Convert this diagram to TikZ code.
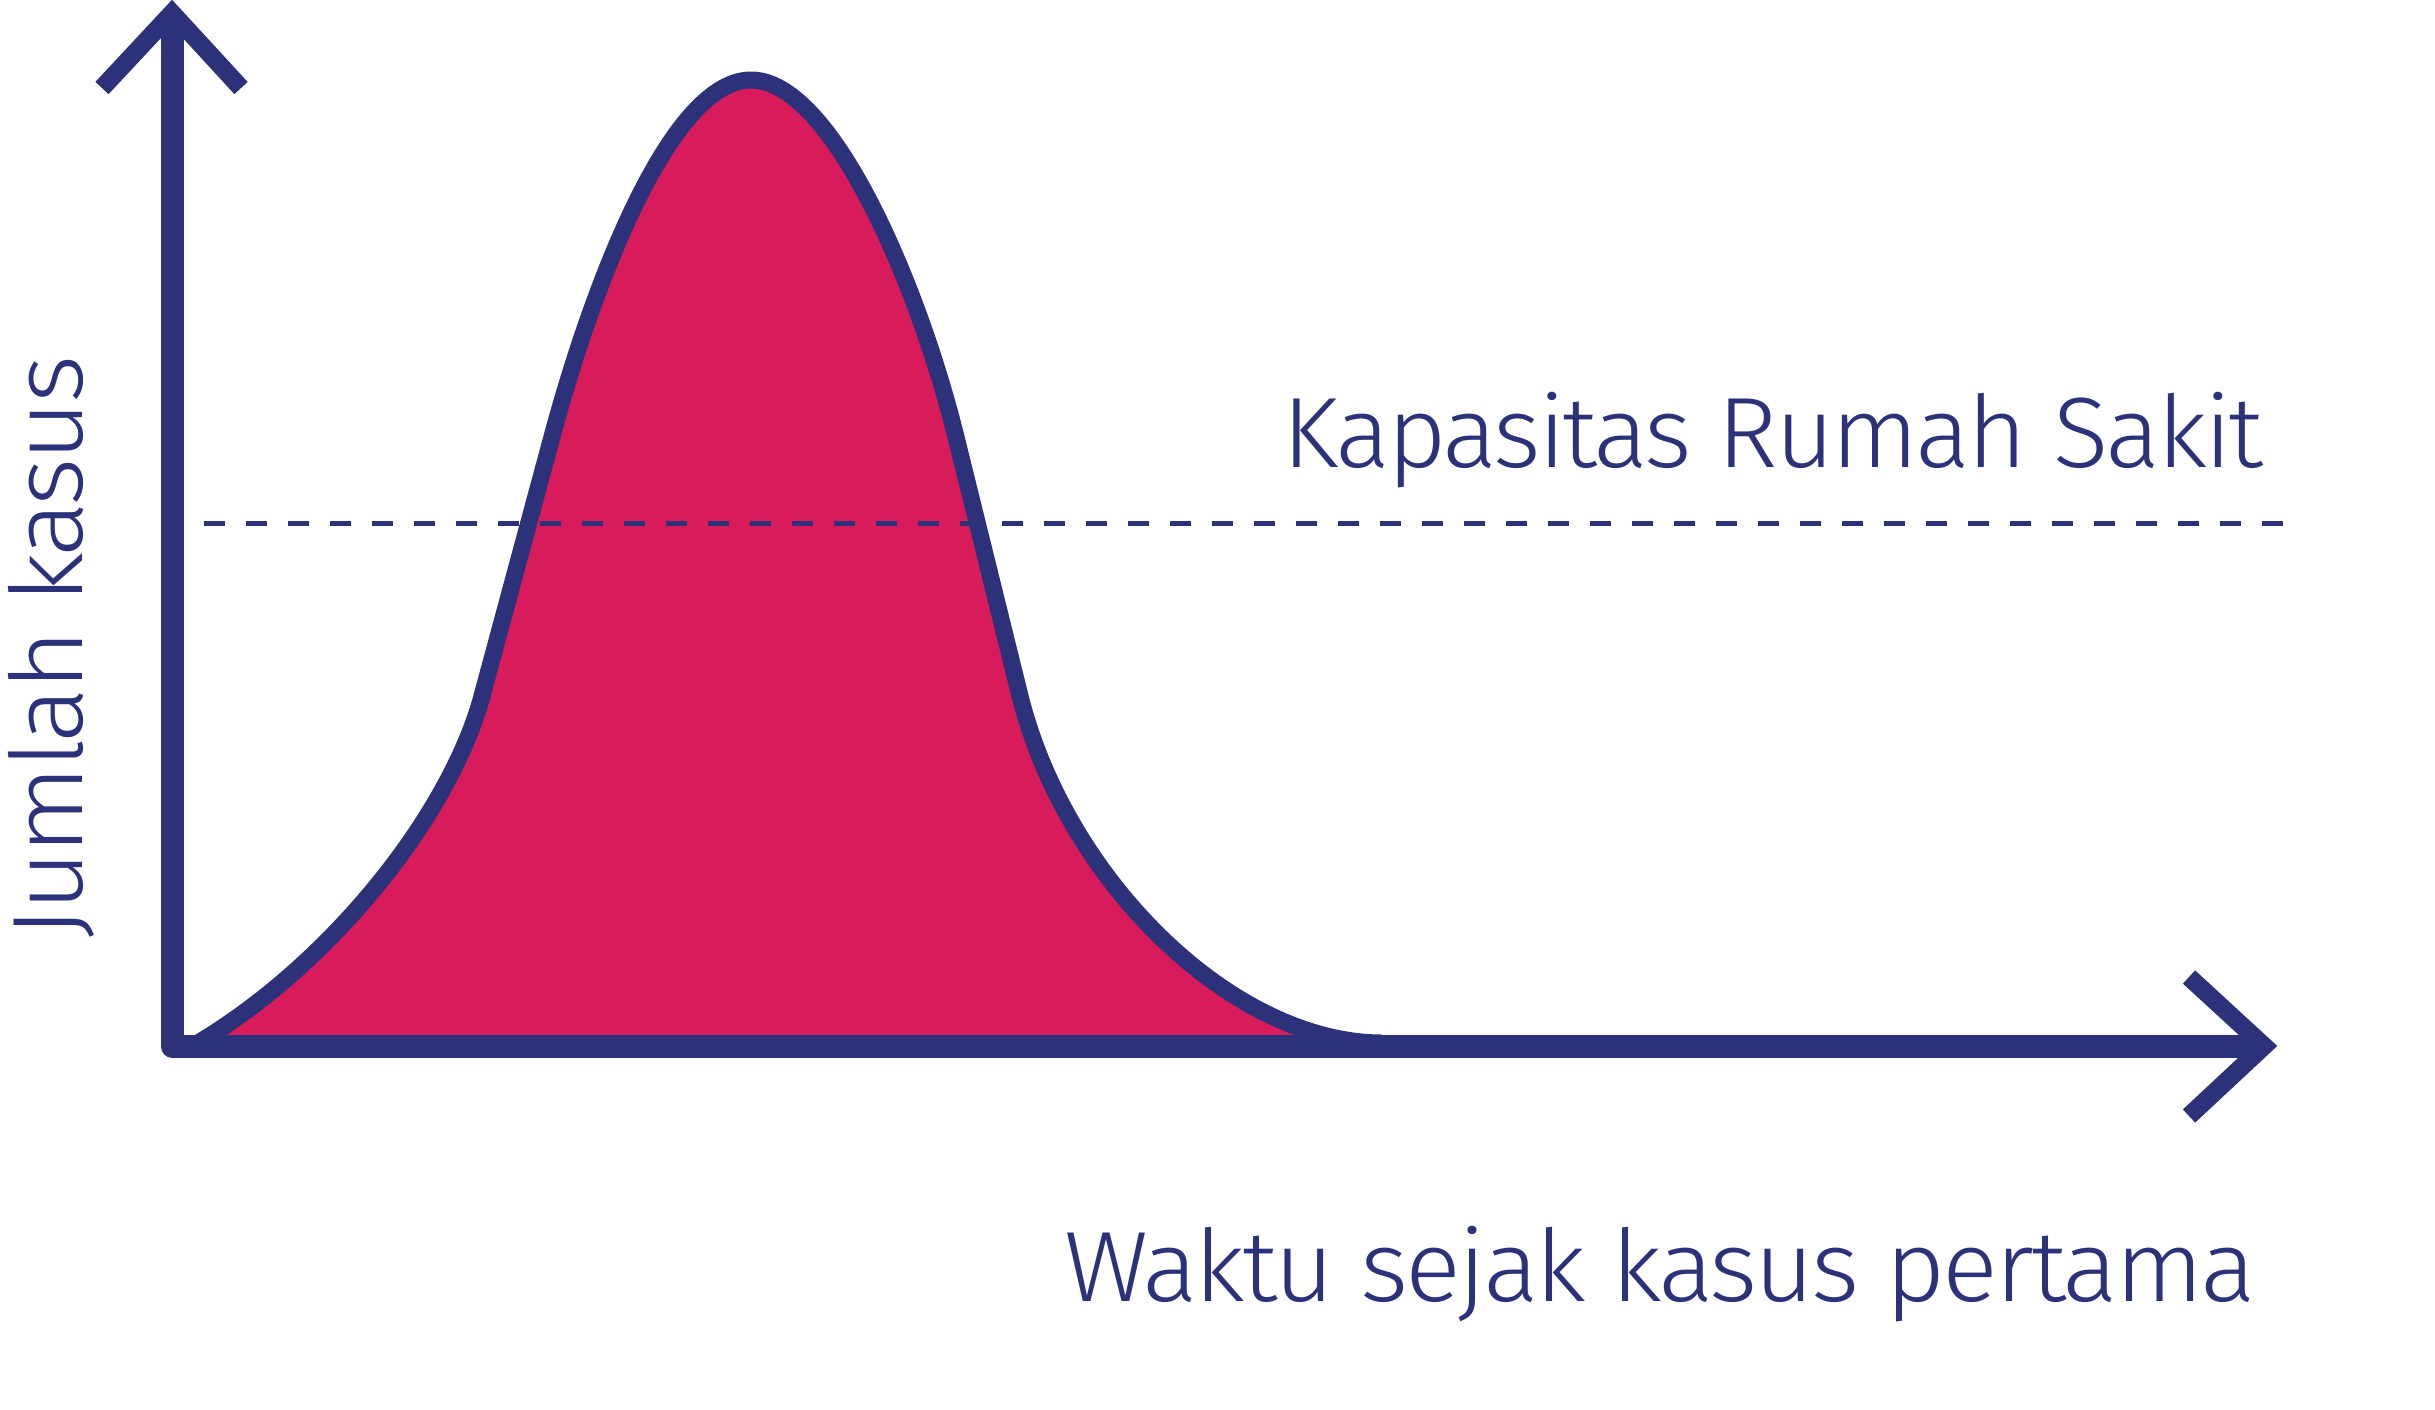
\documentclass[tikz,border=0pt]{standalone}
\usepackage{fontspec}
\IfFontExistsTF{Fira Sans Light}{\setmainfont{Fira Sans Light}[LetterSpace=-3]}{\setmainfont{Fira Sans}}
\definecolor{navy}{RGB}{43,50,122}
\definecolor{crimson}{RGB}{216,28,91}
\newsavebox\txtbox
\newcommand\fitto[2]{\sbox\txtbox{#2}\pgfmathsetmacro\fitfac{#1/\the\wd\txtbox}\scalebox{\fitfac}[1]{\usebox\txtbox}}
\tikzset{
  lbl/.style={inner sep=0pt, text=navy, font=\fontsize{100}{120}\selectfont},
  axisline/.style={draw=navy, line width=23pt, line join=round},
  headline/.style={draw=navy, line width=18pt, line join=miter, line cap=butt},
  curveline/.style={draw=navy, line width=17pt, line join=round},
  capline/.style={draw=navy, line width=5pt, dash pattern=on 21pt off 21pt}
}
\begin{document}
\begin{tikzpicture}[x=1pt,y=-1pt]
\useasboundingbox (0,0) rectangle (2435,1410);
\fill[white] (0,0) rectangle (2435,1410);
% axis coordinates
\coordinate (O) at (172,1046);
\coordinate (ytop) at (172,20);
\coordinate (yapex) at (172,13);
\coordinate (yl) at (102,88);
\coordinate (yr) at (241,88);
\coordinate (xend) at (2258,1046);
\coordinate (xapex) at (2264,1046);
\coordinate (xu) at (2189,977);
\coordinate (xd) at (2189,1116);
\coordinate (dl) at (204,523);
\coordinate (dr) at (2285,523);
% curve coordinates
\coordinate (c0) at (193,1046);
\coordinate (c1) at (482,696);
\coordinate (c2) at (553,433);
\coordinate (pk) at (751,80);
\coordinate (c3) at (955,433);
\coordinate (c4) at (1020,696);
\coordinate (c5) at (1382,1043);
\def\curvepath{(c0) .. controls (330,966) and (450,815) .. (c1) -- (c2)
  .. controls (594,282) and (671,80) .. (pk)
  .. controls (831,80) and (917,282) .. (c3) -- (c4)
  .. controls (1066,880) and (1232,1043) .. (c5)}
\fill[crimson] \curvepath -- cycle;
\draw[curveline] \curvepath;
% capacity line
\draw[capline] (dl) -- (dr);
% axes
\draw[axisline] (ytop) -- (O) -- (xend);
\draw[headline] (yl) -- (yapex) -- (yr);
\draw[headline] (xu) -- (xapex) -- (xd);
% labels
\node[lbl, anchor=base east] (cap) at (2264,467) {\fitto{981}{Kapasitas Rumah Sakit}};
\node[lbl, anchor=base west] (xlab) at (1064,1301) {\fitto{1192}{Waktu sejak kasus pertama}};
\node[lbl, anchor=base west, rotate=90] (ylab) at (82,939) {\fitto{583}{Jumlah kasus}};
\end{tikzpicture}
\end{document}
